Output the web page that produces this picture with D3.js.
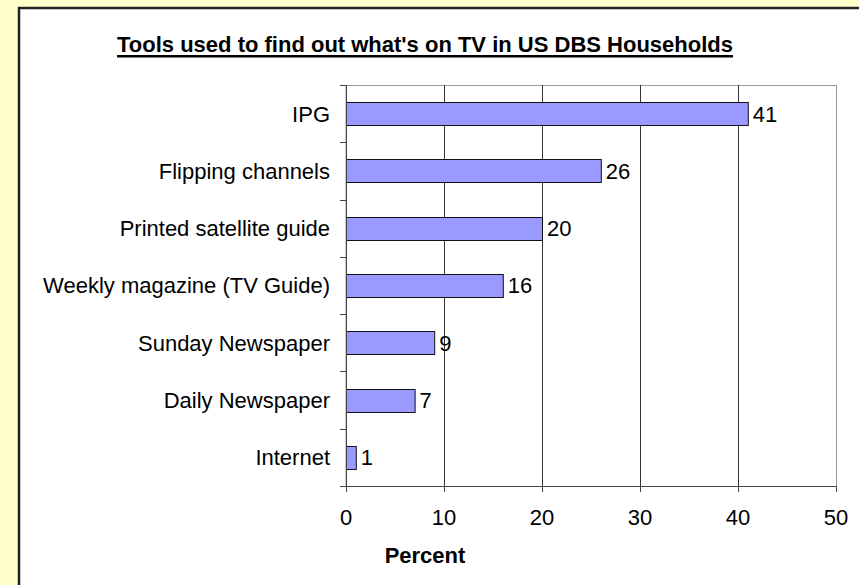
<!DOCTYPE html>
<html><head><meta charset="utf-8">
<script src="https://cdn.jsdelivr.net/npm/d3@7"></script>
<style>html,body{margin:0;padding:0;background:#FFFFCC;}svg{display:block;}</style>
</head><body>
<script>
const categories = ["IPG","Flipping channels","Printed satellite guide","Weekly magazine (TV Guide)","Sunday Newspaper","Daily Newspaper","Internet"];
const values = [41,26,20,16,9,7,1];
const xTicks = [0,10,20,30,40,50];
const title = "Tools used to find out what's on TV in US DBS Households";
const xTitle = "Percent";

const W = 859, H = 585;
const FONT = "Liberation Sans, Arial, sans-serif";
const FS = 22;
const svg = d3.select("body").append("svg").attr("width",W).attr("height",H);
svg.append("rect").attr("width",W).attr("height",H).attr("fill","#FFFFCC");
// inner panel
svg.append("rect").attr("x",19).attr("y",8).attr("width",W).attr("height",H)
  .attr("fill","#fff").attr("stroke","#222").attr("stroke-width",2.5);

const L = 346, R = 836, T = 85, B = 486;
const x = d3.scaleLinear().domain([0,50]).range([L,R]);
const y = d3.scaleBand().domain(categories).range([T,B]).paddingInner(0.6).paddingOuter(0.3);
const yb = d3.scaleBand().domain(categories).range([T,B]);

// plot border (gray)
svg.append("rect").attr("x",L).attr("y",T+0.5).attr("width",R-L+0.5).attr("height",B-T)
  .attr("fill","none").attr("stroke","#999").attr("stroke-width",1);
// gridlines
svg.append("g").selectAll("line").data(xTicks.filter(d=>d>0 && d<50)).join("line")
  .attr("x1",d=>Math.round(x(d))+0.5).attr("x2",d=>Math.round(x(d))+0.5)
  .attr("y1",T).attr("y2",B).attr("stroke","#333").attr("stroke-width",1);

// bars
svg.append("g").selectAll("rect").data(values).join("rect")
  .attr("x",L+0.5).attr("y",(d,i)=>Math.round(y(categories[i]))+0.5)
  .attr("width",d=>x(d)-L).attr("height",Math.round(y.bandwidth()))
  .attr("fill","#9999FF").attr("stroke","#111").attr("stroke-width",1);

// value labels
svg.append("g").selectAll("text").data(values).join("text")
  .attr("x",d=>x(d)+5).attr("y",(d,i)=>y(categories[i])+y.bandwidth()/2)
  .attr("dy","0.36em").attr("font-family",FONT)
  .attr("font-size",FS).text(d=>d);

// axes
const ax = svg.append("g").attr("stroke","#444");
ax.append("line").attr("x1",L+0.5).attr("x2",L+0.5).attr("y1",T).attr("y2",B+6);
ax.append("line").attr("x1",L-6).attr("x2",R).attr("y1",B+0.5).attr("y2",B+0.5);
// y ticks at band boundaries
const bounds = categories.map(c=>yb(c)).concat([B]);
ax.selectAll("line.yt").data(bounds).join("line").attr("class","yt")
  .attr("x1",L-6).attr("x2",L).attr("y1",d=>Math.round(d)+0.5).attr("y2",d=>Math.round(d)+0.5);
ax.selectAll("line.xt").data(xTicks).join("line").attr("class","xt")
  .attr("x1",d=>Math.round(x(d))+0.5).attr("x2",d=>Math.round(x(d))+0.5).attr("y1",B).attr("y2",B+6);

// category labels
svg.append("g").selectAll("text").data(categories).join("text")
  .attr("x",330).attr("y",d=>yb(d)+yb.bandwidth()/2).attr("dy","0.36em")
  .attr("text-anchor","end").attr("font-family",FONT)
  .attr("font-size",FS).text(d=>d);

// x tick labels
svg.append("g").selectAll("text").data(xTicks).join("text")
  .attr("x",d=>x(d)).attr("y",525).attr("text-anchor","middle")
  .attr("font-family",FONT).attr("font-size",FS).text(d=>d);

// titles
svg.append("text").attr("x",425).attr("y",563).attr("text-anchor","middle")
  .attr("font-family",FONT).attr("font-size",FS).attr("font-weight","bold").text(xTitle);
const tt = svg.append("text").attr("x",425).attr("y",52).attr("text-anchor","middle")
  .attr("font-family",FONT).attr("font-size",FS).attr("font-weight","bold").text(title);
const tw = tt.node().getComputedTextLength();
svg.append("rect").attr("x",425-tw/2).attr("y",55).attr("width",tw).attr("height",2.5).attr("fill","#000");
</script>
</body></html>
